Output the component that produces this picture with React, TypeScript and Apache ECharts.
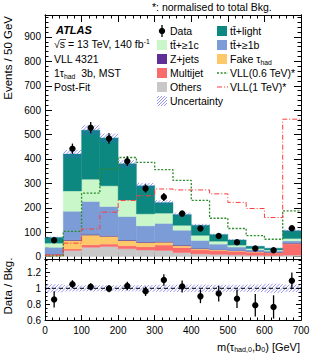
import React, { useEffect, useRef } from "react";
import * as echarts from "echarts";

// ---------------- data ----------------
const binLow = [0, 50, 100, 150, 200, 250, 300, 350, 400, 450, 500, 550, 600, 650];
const binWidth = 50;

const others = [3, 25, 38, 41, 32, 27, 25, 16, 11, 9, 7, 5, 4, 6];
const multijet = [3, 6, 10, 10, 12, 13, 22, 21, 16, 15, 14, 13, 11, 46];
const fakeTau = [2, 35, 40, 32, 22, 18, 12, 8, 5, 4, 3, 2, 2, 2];
const zJets = [1, 3, 3, 2, 2, 2, 2, 2, 2, 1, 1, 1, 1, 1];
const ttB = [29, 117, 135, 120, 96, 66, 75, 61, 32, 22, 14, 7, 5, 9];
const ttC = [17, 83, 91, 85, 68, 49, 42, 20, 21, 12, 8, 5, 4, 10];
const ttLight = [23, 151, 201, 196, 148, 115, 43, 44, 41, 27, 21, 9, 7, 32];
const bkgUnc = [4, 17, 20, 18, 15, 12, 10, 8, 6, 4, 3, 2, 2, 5];

const dataVals = [67, 442, 528, 484, 391, 279, 244, 176, 115, 84, 59, 33, 26, 116];
const dataErr = [8, 21, 23, 22, 20, 17, 16, 13, 11, 9, 8, 6, 5, 11];

const vll06 = [3, 103, 260, 358, 406, 386, 356, 312, 230, 157, 115, 86, 71, 187];
const vll10 = [7, 55, 113, 182, 230, 249, 277, 273, 273, 257, 222, 197, 160, 563];

const mainYTicks = [0, 100, 200, 300, 400, 500, 600, 700, 800, 900];
const ratioYTicks = [0.6, 0.8, 1, 1.2];

const FONT = "'Liberation Sans', Arial, Helvetica, sans-serif";

const components = [
  { name: "Others", values: others, color: "#c8c8c8" },
  { name: "Multijet", values: multijet, color: "#fa6b6b" },
  { name: "Fake τhad", values: fakeTau, color: "#fdc86a" },
  { name: "Z+jets", values: zJets, color: "#5e2f96" },
  { name: "tt̄+≥1b", values: ttB, color: "#7c9cd7" },
  { name: "tt̄+≥1c", values: ttC, color: "#c9f7c9" },
  { name: "tt̄+light", values: ttLight, color: "#0d8880" },
];

const HATCH = { stroke: "rgba(80,80,235,0.75)", lineWidth: 0.8 };

function hatchLines(x0: number, y0: number, x1: number, y1: number, step: number, style: any) {
  const out: any[] = [];
  const start = Math.ceil((x0 + y0) / step) * step;
  for (let c = start; c <= x1 + y1; c += step) {
    const xa = Math.max(x0, c - y1);
    const xb = Math.min(x1, c - y0);
    if (xb > xa) out.push({ type: "line", shape: { x1: xa, y1: c - xa, x2: xb, y2: c - xb }, style });
  }
  return out;
}

function minorValues(lo: number, hi: number, step: number, majorStep: number) {
  const out: number[] = [];
  for (let v = lo; v <= hi + 1e-9; v += step) {
    const r = v / majorStep;
    if (Math.abs(r - Math.round(r)) > 1e-6) out.push(Math.round(v * 1000) / 1000);
  }
  return out;
}

function buildOption() {
  const total = binLow.map((_, i) => components.reduce((s, c) => s + c.values[i], 0));

  const axLine = { show: true, onZero: false, lineStyle: { color: "#000", width: 1 } };
  const labelStyle = { color: "#000", fontSize: 10, fontFamily: FONT };

  const xAx = (grid: number, pos: string, showLabel: boolean, major: number, minor: number) => ({
    type: "value",
    gridIndex: grid,
    position: pos,
    min: 0,
    max: 700,
    interval: 100,
    axisLine: axLine,
    axisTick: { show: true, inside: true, length: major, lineStyle: { color: "#000" } },
    minorTick: { show: true, splitNumber: 5, length: minor, lineStyle: { color: "#000" } },
    axisLabel: showLabel ? { show: true, margin: 5, ...labelStyle } : { show: false },
    splitLine: { show: false },
    minorSplitLine: { show: false },
  });

  const yAx = (
    grid: number,
    pos: string,
    min: number,
    max: number,
    ticks: number[],
    len: number,
    labels: boolean,
    fmt?: (v: number) => string
  ) => ({
    type: "value",
    gridIndex: grid,
    position: pos,
    min,
    max,
    axisLine: axLine,
    axisTick: { show: true, inside: true, length: len, customValues: ticks, lineStyle: { color: "#000" } },
    axisLabel: labels
      ? { show: true, customValues: ticks, margin: 4, formatter: fmt, ...labelStyle }
      : { show: false },
    splitLine: { show: false },
  });

  const mainMinor = minorValues(20, 980, 20, 100);
  const ratioMinor = minorValues(0.65, 1.35, 0.05, 0.2);
  const ratioFmt = (v: number) => (Math.abs(v - 1) < 1e-9 ? "1" : String(Math.round(v * 10) / 10));

  const series: any[] = [];

  // stacked backgrounds
  const base = binLow.map(() => 0);
  components.forEach((c) => {
    const rows = binLow.map((lo, i) => {
      const b = base[i];
      base[i] += c.values[i];
      return [lo, lo + binWidth, b, b + c.values[i]];
    });
    series.push({
      type: "custom",
      name: c.name,
      xAxisIndex: 0,
      yAxisIndex: 0,
      data: rows,
      encode: { x: [0, 1], y: [2, 3] },
      renderItem: (params: any, api: any) => {
        const a = api.coord([api.value(0), api.value(3)]);
        const b = api.coord([api.value(1), api.value(2)]);
        return {
          type: "rect",
          shape: { x: a[0], y: a[1], width: b[0] - a[0], height: b[1] - a[1] },
          style: { fill: c.color, stroke: c.color, lineWidth: 0.4 },
        };
      },
    });
  });

  // uncertainty band (main)
  series.push({
    type: "custom",
    name: "Uncertainty",
    xAxisIndex: 0,
    yAxisIndex: 0,
    data: binLow.map((lo, i) => [lo, lo + binWidth, total[i] - bkgUnc[i], total[i] + bkgUnc[i]]),
    encode: { x: [0, 1], y: [2, 3] },
    renderItem: (params: any, api: any) => {
      const a = api.coord([api.value(0), api.value(3)]);
      const b = api.coord([api.value(1), api.value(2)]);
      return { type: "group", children: hatchLines(a[0], a[1], b[0], b[1], 3.5, HATCH) };
    },
  });

  // VLL step lines
  const stepPts = (vals: number[]) => [
    ...binLow.map((lo, i) => [lo, vals[i]]),
    [binLow[binLow.length - 1] + binWidth, vals[vals.length - 1]],
  ];
  series.push({
    type: "line",
    name: "VLL(0.6 TeV)*",
    xAxisIndex: 0,
    yAxisIndex: 0,
    step: "end",
    symbol: "none",
    data: stepPts(vll06),
    lineStyle: { color: "#2b8a2b", width: 1.3, type: [2, 1.6] },
    z: 3,
  });
  series.push({
    type: "line",
    name: "VLL(1 TeV)*",
    xAxisIndex: 0,
    yAxisIndex: 0,
    step: "end",
    symbol: "none",
    data: stepPts(vll10),
    lineStyle: { color: "#ff3b3b", width: 1, type: [5, 2, 1, 2] },
    z: 3,
  });

  const pointRender = (params: any, api: any) => {
    const x = api.value(0);
    const y = api.value(1);
    const e = api.value(2);
    const p = api.coord([x, y]);
    const lo = api.coord([x, y - e]);
    const hi = api.coord([x, y + e]);
    return {
      type: "group",
      children: [
        { type: "line", shape: { x1: p[0], y1: lo[1], x2: p[0], y2: hi[1] }, style: { stroke: "#000", lineWidth: 1.3 } },
        { type: "circle", shape: { cx: p[0], cy: p[1], r: 3.2 }, style: { fill: "#000" } },
      ],
    };
  };

  series.push({
    type: "custom",
    name: "Data",
    xAxisIndex: 0,
    yAxisIndex: 0,
    data: binLow.map((lo, i) => [lo + binWidth / 2, dataVals[i], dataErr[i]]),
    encode: { x: 0, y: 1 },
    renderItem: pointRender,
    z: 5,
  });

  // ratio panel
  series.push({
    type: "custom",
    name: "RatioUnc",
    xAxisIndex: 2,
    yAxisIndex: 4,
    data: binLow.map((lo, i) => [lo, lo + binWidth, 1 - bkgUnc[i] / total[i], 1 + bkgUnc[i] / total[i]]),
    encode: { x: [0, 1], y: [2, 3] },
    renderItem: (params: any, api: any) => {
      const a = api.coord([api.value(0), api.value(3)]);
      const b = api.coord([api.value(1), api.value(2)]);
      return { type: "group", children: hatchLines(a[0], a[1], b[0], b[1], 3.5, HATCH) };
    },
  });
  series.push({
    type: "line",
    name: "RatioOne",
    xAxisIndex: 2,
    yAxisIndex: 4,
    symbol: "none",
    data: [
      [0, 1],
      [700, 1],
    ],
    lineStyle: { color: "#000", width: 1, type: [4, 3] },
    z: 3,
  });
  series.push({
    type: "custom",
    name: "Ratio",
    xAxisIndex: 2,
    yAxisIndex: 4,
    data: binLow.map((lo, i) => [lo + binWidth / 2, dataVals[i] / total[i], dataErr[i] / total[i]]),
    encode: { x: 0, y: 1 },
    renderItem: pointRender,
    z: 5,
  });

  // ---------- graphics: texts and legend ----------
  const txt = (x: number, y: number, text: string, extra: any = {}) => ({
    type: "text",
    x,
    y,
    z: 100,
    style: {
      text,
      fill: "#000",
      fontSize: 10.5,
      fontFamily: FONT,
      align: "left",
      verticalAlign: "middle",
      ...extra,
    },
  });
  const subRich = (fs: number) => ({
    n: { fontSize: fs, fontFamily: FONT, fill: "#000" },
    sub: { fontSize: fs * 0.65, fontFamily: FONT, fill: "#000", padding: [6, 0, 0, 0] },
    sup: { fontSize: fs * 0.65, fontFamily: FONT, fill: "#000", padding: [0, 0, 6, 0] },
  });

  const rowY = [31, 45, 59, 73, 87, 101];
  const lx = 157;
  const rx = 217;
  const bw = 10;
  const bh = 10;
  const box = (x: number, y: number, color: string) => ({
    type: "rect",
    z: 100,
    shape: { x, y: y - bh / 2, width: bw, height: bh },
    style: { fill: color },
  });
  const colorOf = (n: string) => components.find((c) => c.name === n)!.color;

  const graphics: any[] = [
    txt(152, 6.5, "*: normalised to total Bkg.", { fontSize: 10.5 }),
    txt(56, 30, "ATLAS", { fontSize: 11, fontWeight: "bold", fontStyle: "italic" }),
    txt(54, 44, "{n|√s = 13 TeV, 140 fb}{sup|-1}", { rich: subRich(10.5) }),
    { type: "line", z: 100, shape: { x1: 60, y1: 39.5, x2: 66, y2: 39.5 }, style: { stroke: "#000", lineWidth: 0.7 } },
    txt(54, 59, "VLL 4321"),
    txt(54, 73, "{n|1τ}{sub|had}{n|  3b, MST}", { rich: subRich(10.5) }),
    txt(54, 87, "Post-Fit"),
    // y titles
    {
      type: "text",
      x: 8,
      y: 16,
      rotation: Math.PI / 2,
      z: 100,
      style: { text: "Events / 50 GeV", fill: "#000", fontSize: 11.5, fontFamily: FONT, align: "right", verticalAlign: "middle" },
    },
    {
      type: "text",
      x: 8,
      y: 286,
      rotation: Math.PI / 2,
      z: 100,
      style: { text: "Data / Bkg.", fill: "#000", fontSize: 11.5, fontFamily: FONT, align: "center", verticalAlign: "middle" },
    },
    // x title
    txt(300, 347, "{n|m(τ}{sub|had,0}{n|,b}{sub|0}{n|) [GeV]}", { align: "right", rich: subRich(11) }),

    // legend left column
    { type: "line", z: 100, shape: { x1: lx + 5, y1: rowY[0] - 6, x2: lx + 5, y2: rowY[0] + 6 }, style: { stroke: "#000", lineWidth: 1.3 } },
    { type: "circle", z: 100, shape: { cx: lx + 5, cy: rowY[0], r: 3.2 }, style: { fill: "#000" } },
    txt(170, rowY[0], "Data"),
    box(lx, rowY[1], colorOf("tt̄+≥1c")),
    txt(170, rowY[1], "tt̄+≥1c"),
    box(lx, rowY[2], colorOf("Z+jets")),
    txt(170, rowY[2], "Z+jets"),
    box(lx, rowY[3], colorOf("Multijet")),
    txt(170, rowY[3], "Multijet"),
    box(lx, rowY[4], colorOf("Others")),
    txt(170, rowY[4], "Others"),
    { type: "group", z: 100, children: hatchLines(lx, rowY[5] - bh / 2, lx + bw, rowY[5] + bh / 2, 3, HATCH) },
    txt(170, rowY[5], "Uncertainty"),

    // legend right column
    box(rx, rowY[0], colorOf("tt̄+light")),
    txt(230, rowY[0], "tt̄+light"),
    box(rx, rowY[1], colorOf("tt̄+≥1b")),
    txt(230, rowY[1], "tt̄+≥1b"),
    box(rx, rowY[2], colorOf("Fake τhad")),
    txt(230, rowY[2], "{n|Fake τ}{sub|had}", { rich: subRich(10.5) }),
    { type: "line", z: 100, shape: { x1: rx, y1: rowY[3], x2: rx + 11, y2: rowY[3] }, style: { stroke: "#2b8a2b", lineWidth: 1.3, lineDash: [2, 1.6] } },
    txt(230, rowY[3], "VLL(0.6 TeV)*"),
    { type: "line", z: 100, shape: { x1: rx, y1: rowY[4], x2: rx + 11, y2: rowY[4] }, style: { stroke: "#ff3b3b", lineWidth: 1, lineDash: [5, 2, 1, 2] } },
    txt(230, rowY[4], "VLL(1 TeV)*"),
  ];

  return {
    animation: false,
    backgroundColor: "#fff",
    grid: [
      { left: 45, top: 15, width: 256, height: 244 },
      { left: 45, top: 259, width: 256, height: 61 },
    ],
    xAxis: [
      xAx(0, "bottom", false, 7, 3.5),
      xAx(0, "top", false, 7, 3.5),
      xAx(1, "bottom", true, 5, 2.5),
      xAx(1, "top", false, 5, 2.5),
    ],
    yAxis: [
      yAx(0, "left", -10, 990, mainYTicks, 7, true, (v: number) => String(v)),
      yAx(0, "left", -10, 990, mainMinor, 3.5, false),
      yAx(0, "right", -10, 990, mainYTicks, 7, false),
      yAx(0, "right", -10, 990, mainMinor, 3.5, false),
      yAx(1, "left", 0.6, 1.37, ratioYTicks, 5, true, ratioFmt),
      yAx(1, "left", 0.6, 1.37, ratioMinor, 2.5, false),
      yAx(1, "right", 0.6, 1.37, ratioYTicks, 5, false),
      yAx(1, "right", 0.6, 1.37, ratioMinor, 2.5, false),
    ],
    series,
    graphic: graphics,
  };
}

export default function App() {
  const ref = useRef<HTMLDivElement>(null);
  useEffect(() => {
    if (!ref.current) return;
    const chart = echarts.init(ref.current, null, { renderer: "svg" });
    chart.setOption(buildOption() as any);
    return () => chart.dispose();
  }, []);
  return (
    <div
      ref={ref}
      style={{ position: "fixed", left: 0, top: 0, width: 317, height: 358, background: "#fff" }}
    />
  );
}
